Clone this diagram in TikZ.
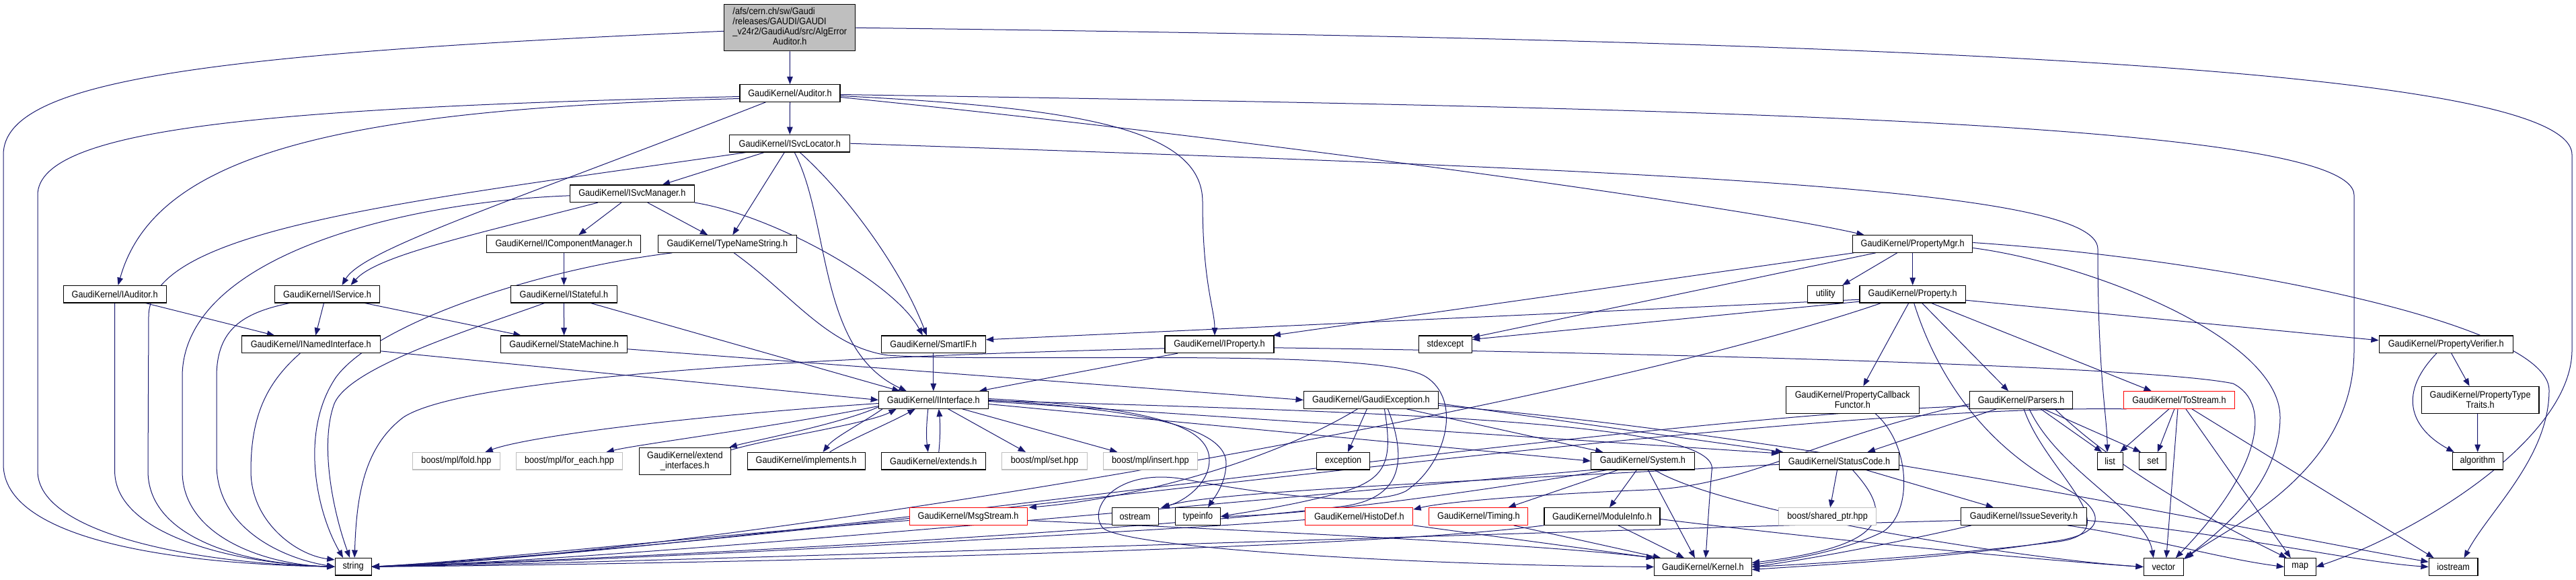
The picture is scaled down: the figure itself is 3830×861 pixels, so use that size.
\documentclass[tikz,border=0pt]{standalone}
\usepackage{fontspec}
\usetikzlibrary{arrows.meta,calc}
\newfontfamily\dox{Liberation Sans}[FakeStretch=0.9]
\definecolor{edgec}{HTML}{191970}
\definecolor{rootfill}{HTML}{BFBFBF}
\definecolor{grayb}{HTML}{BFBFBF}
\pgfdeclarelayer{bg}
\pgfdeclarelayer{edges}
\pgfsetlayers{bg,edges,main}
\tikzset{
  box/.style={draw=black, fill=white, line width=0.8pt, inner sep=0pt, minimum height=19.2pt,
    font=\dox\fontsize{10.6}{11.2}\selectfont, align=center},
  boxg/.style={box, draw=grayb},
  boxr/.style={box, draw=red},
  tall/.style={minimum height=30pt},
  bw/.style={minimum width=#1*0.75pt},
  dep/.style={draw=edgec, line width=0.75pt, -{Triangle[length=8.5pt,width=6.5pt]}},
}
\begin{document}
\begin{tikzpicture}[x=0.75pt,y=-0.75pt]
\begin{pgfonlayer}{bg}
\fill[white] (0,0) rectangle (3830,861);
\end{pgfonlayer}
\useasboundingbox (0,0) rectangle (3830,861);
% ---------- nodes ----------
\node[box, fill=rootfill, bw=195, minimum height=51.75pt] (root) at (1174.3,41.3)
  {\begin{tabular}{@{}l@{}}/afs/cern.ch/sw/Gaudi\\/releases/GAUDI/GAUDI\\\_v24r2/GaudiAud/src/AlgError\\\multicolumn{1}{@{}c@{}}{Auditor.h}\end{tabular}};
\node[box, bw=149] (aud) at (1174.5,138.5) {GaudiKernel/Auditor.h};
\node[box, bw=179] (isl) at (1174.3,213.2) {GaudiKernel/ISvcLocator.h};
\node[box, bw=185] (ism) at (939.8,287.8) {GaudiKernel/ISvcManager.h};
\node[box, bw=229] (icm) at (838.4,362.5) {GaudiKernel/IComponentManager.h};
\node[box, bw=206] (tns) at (1081.3,362.5) {GaudiKernel/TypeNameString.h};
\node[box, bw=153] (iaud) at (170.6,437.2) {GaudiKernel/IAuditor.h};
\node[box, bw=156] (isvc) at (486.5,437.2) {GaudiKernel/IService.h};
\node[box, bw=206] (inam) at (462.2,511.8) {GaudiKernel/INamedInterface.h};
\node[box, bw=54] (str) at (525.1,842.2) {string};
\node[box, bw=158] (ist) at (838.4,437.2) {GaudiKernel/IStateful.h};
\node[box, bw=188] (stm) at (838.6,511.8) {GaudiKernel/StateMachine.h};
\node[boxg, bw=130] (fold) at (678.4,685.2) {boost/mpl/fold.hpp};
\node[boxg, bw=158] (fore) at (846.5,685.2) {boost/mpl/for\_each.hpp};
\node[box, tall, bw=136] (exti) at (1018.4,685.2) {GaudiKernel/extend\\\_interfaces.h};
\node[box, bw=175] (impl) at (1198.6,685.2) {GaudiKernel/implements.h};
\node[box, bw=155] (sif) at (1387.8,511.8) {GaudiKernel/SmartIF.h};
\node[box, bw=162] (iprop) at (1813,511.8) {GaudiKernel/IProperty.h};
\node[box, bw=162.5] (iif) at (1387.8,594.5) {GaudiKernel/IInterface.h};
\node[box, bw=155] (exts) at (1387.8,685.2) {GaudiKernel/extends.h};
\node[boxg, bw=126.5] (mset) at (1553,685.2) {boost/mpl/set.hpp};
\node[boxg, bw=140] (mins) at (1710.4,685.2) {boost/mpl/insert.hpp};
\node[boxr, bw=175] (msg) at (1439.6,767.5) {GaudiKernel/MsgStream.h};
\node[box, bw=69] (ostr) at (1687.6,767.5) {ostream};
\node[box, bw=67] (tinf) at (1781,767.5) {typeinfo};
\node[box, bw=79] (stde) at (2148.8,511.8) {stdexcept};
\node[box, bw=200] (gexc) at (2038.4,594.5) {GaudiKernel/GaudiException.h};
\node[box, bw=79] (exc) at (1997,685.2) {exception};
\node[box, bw=153.5] (sys) at (2442.4,685.2) {GaudiKernel/System.h};
\node[boxr, bw=160] (hist) at (2020.8,767.5) {GaudiKernel/HistoDef.h};
\node[boxr, bw=147] (tim) at (2198.4,767.5) {GaudiKernel/Timing.h};
\node[box, bw=172] (modi) at (2382,767.5) {GaudiKernel/ModuleInfo.h};
\node[box, bw=144.5] (kern) at (2531.9,842.5) {GaudiKernel/Kernel.h};
\node[box, bw=178] (pmgr) at (2843.7,362.5) {GaudiKernel/PropertyMgr.h};
\node[box, bw=53] (util) at (2714.3,437.2) {utility};
\node[box, bw=157.5] (prop) at (2843.7,437.2) {GaudiKernel/Property.h};
\node[box, tall, bw=197.6] (pcbf) at (2754.3,594.3) {GaudiKernel/PropertyCallback\\Functor.h};
\node[box, bw=153] (pars) at (3005.1,594.5) {GaudiKernel/Parsers.h};
\node[boxr, bw=165.6] (tost) at (3239.9,594.5) {GaudiKernel/ToStream.h};
\node[box, bw=177.6] (stc) at (2734.5,685.2) {GaudiKernel/StatusCode.h};
\node[boxg, bw=144.5] (shp) at (2717.1,767.5) {boost/shared\_ptr.hpp};
\node[box, bw=187.8] (isev) at (3009,767.5) {GaudiKernel/IssueSeverity.h};
\node[box, bw=38] (lst) at (3137.1,685.2) {list};
\node[box, bw=40] (sset) at (3200.9,685.2) {set};
\node[box, bw=59] (vec) at (3216.8,842.5) {vector};
\node[box, bw=46.5] (map) at (3419.8,842.5) {map};
\node[box, bw=72.7] (iost) at (3647.6,842.5) {iostream};
\node[box, bw=199] (pver) at (3636.7,511.8) {GaudiKernel/PropertyVerifier.h};
\node[box, tall, bw=174.7] (ptt) at (3687.6,594.3) {GaudiKernel/PropertyType\\Traits.h};
\node[box, bw=74.7] (algo) at (3683.7,685.2) {algorithm};
% ---------- edges ----------
\begin{pgfonlayer}{edges}
% root
\draw[dep] (root.south) -- (aud.north);
\draw[dep] ($(root.west)+(0,5)$) .. controls (300,80) and (5,120) .. (5,230) -- (5,690) .. controls (5,800) and (250,838) .. (str.west);
\draw[dep] (root.east) .. controls (2800,60) and (3824,100) .. (3824,230) -- (3824,520) .. controls (3824,650) and (3600,790) .. (map.east);
% Auditor
\draw[dep] (aud.south) -- (isl.north);
\draw[dep] ($(aud.west)+(0,5)$) .. controls (400,160) and (56,190) .. (56,290) -- (56,700) .. controls (56,795) and (300,838) .. (str.west);
\draw[dep] ($(aud.west)+(0,8)$) .. controls (500,162) and (230,230) .. ($(iaud.north)+(5,0)$);
\draw[dep] ($(aud.south)+(-36,0)$) .. controls (760,300) and (540,370) .. ($(isvc.north)+(22,0)$);
\draw[dep] ($(aud.east)+(0,4)$) .. controls (1600,160) and (1788,190) .. (1788,300) .. controls (1788,420) and (1806,460) .. ($(iprop.north)+(-7,0)$);
\draw[dep] ($(aud.east)+(0,6)$) .. controls (1900,210) and (2600,310) .. ($(pmgr.north)+(-72,0)$);
\draw[dep] ($(aud.east)+(0,2)$) .. controls (2500,160) and (3500,180) .. (3500,290) -- (3500,520) .. controls (3500,700) and (3320,780) .. ($(vec.north east)+(3,0)$);
% ISvcLocator
\draw[dep] ($(isl.south)+(-38,0)$) -- ($(ism.north)+(45,0)$);
\draw[dep] ($(isl.south)+(-8,0)$) -- ($(tns.north)+(8,0)$);
\draw[dep] ($(isl.south)+(-65,0)$) .. controls (600,300) and (222,340) .. (221,470) -- (220,700) .. controls (220,795) and (350,838) .. (str.west);
\draw[dep] ($(isl.south)+(7,0)$) .. controls (1235,330) and (1215,520) .. ($(iif.north)+(-40,0)$);
\draw[dep] ($(isl.south)+(15,0)$) .. controls (1260,290) and (1340,400) .. ($(sif.north)+(-10,0)$);
\draw[dep] (isl.east) .. controls (2500,255) and (3119,280) .. (3119,370) .. controls (3119,560) and (3133,620) .. ($(lst.north)+(-4,0)$);
% ISvcManager
\draw[dep] ($(ism.south)+(-16,0)$) -- ($(icm.north)+(22,0)$);
\draw[dep] ($(ism.south)+(23,0)$) -- ($(tns.north)+(-29,0)$);
\draw[dep] (ism.south east) .. controls (1150,320) and (1330,420) .. ($(sif.north)+(-16,0)$);
\draw[dep] ($(ism.south)+(-51,0)$) .. controls (700,350) and (560,380) .. ($(isvc.north)+(35,0)$);
\draw[dep] ($(ism.west)+(0,3)$) .. controls (600,300) and (271,380) .. (271,560) -- (271,700) .. controls (271,800) and (400,840) .. (str.west);
% IComponentManager
\draw[dep] (icm.south) -- (ist.north);
% TypeNameString
\draw[dep] ($(tns.south)+(-82,0)$) .. controls (800,400) and (560,480) .. (500,560) .. controls (445,640) and (470,760) .. ($(str.north)+(-15,0)$);
\draw[dep] ($(tns.south)+(10,0)$) .. controls (1180,440) and (1230,515) .. (1320,528) .. controls (1500,540) and (2050,515) .. (2120,560) .. controls (2175,595) and (2150,690) .. (2090,730) .. controls (2040,755) and (1880,735) .. (1760,712) .. controls (1660,695) and (1615,755) .. (1640,785) .. controls (1680,815) and (2100,840) .. (kern.west);
% IAuditor
\draw[dep] ($(iaud.south)+(46,0)$) -- ($(inam.north)+(-54,0)$);
\draw[dep] (iaud.south) -- (170.6,700) .. controls (170.6,795) and (350,838) .. (str.west);
% IService
\draw[dep] ($(isvc.south)+(-5,0)$) -- ($(inam.north)+(7,0)$);
\draw[dep] ($(isvc.south)+(-56,0)$) .. controls (360,465) and (322,490) .. (322,560) -- (322,690) .. controls (322,785) and (420,830) .. (str.west);
\draw[dep] ($(isvc.south)+(56,0)$) -- ($(stm.north)+(-64,0)$);
% INamedInterface
\draw[dep] ($(inam.east)+(0,10)$) -- (iif.west);
\draw[dep] ($(inam.south)+(-16,0)$) .. controls (395,570) and (373,620) .. (373,700) .. controls (373,775) and (440,825) .. ($(str.north west)+(0,3)$);
% IStateful
\draw[dep] (ist.south) -- (stm.north);
\draw[dep] ($(ist.south)+(-29,0)$) .. controls (700,490) and (520,545) .. (497,600) .. controls (475,660) and (495,760) .. ($(str.north)+(-5,0)$);
\draw[dep] ($(ist.south)+(40,0)$) -- ($(iif.north)+(-50,0)$);
% StateMachine
\draw[dep] ($(stm.east)+(0,7)$) -- (gexc.west);
% SmartIF
\draw[dep] (sif.south) -- (iif.north);
% IProperty
\draw[dep] ($(iprop.south)+(-62,0)$) -- ($(iif.north)+(68,0)$);
\draw[dep] ($(iprop.west)+(0,6)$) .. controls (1300,528) and (700,555) .. (600,620) .. controls (540,665) and (530,740) .. ($(str.north)+(2,0)$);
\draw[dep] ($(iprop.east)+(0,5)$) .. controls (2500,525) and (3200,545) .. (3320,570) .. controls (3380,600) and (3360,700) .. ($(vec.north)+(18,0)$);
% IInterface
\draw[dep] ($(iif.west)+(0,5)$) .. controls (1000,620) and (780,650) .. ($(fold.north)+(43,0)$);
\draw[dep] ($(iif.west)+(0,9)$) .. controls (1150,635) and (950,660) .. ($(fore.north)+(55,0)$);
\draw[dep] ($(iif.south west)+(0,-3)$) .. controls (1250,630) and (1120,655) .. ($(exti.north)+(66,0)$);
\draw[dep] ($(exti.north east)+(0,4)$) .. controls (1150,650) and (1290,630) .. ($(iif.south)+(-55,0)$);
\draw[dep] ($(iif.south west)+(6,0)$) .. controls (1280,630) and (1240,650) .. ($(impl.north)+(25,0)$);
\draw[dep] ($(impl.north)+(35,0)$) .. controls (1260,655) and (1320,630) .. ($(iif.south)+(-27,0)$);
\draw[dep] ($(iif.south)+(-8,0)$) .. controls (1377,635) and (1377,650) .. ($(exts.north)+(-8,0)$);
\draw[dep] ($(exts.north)+(8,0)$) .. controls (1398,650) and (1398,630) .. ($(iif.south)+(8,0)$);
\draw[dep] ($(iif.south)+(22,0)$) -- ($(mset.north)+(-28,0)$);
\draw[dep] ($(iif.south)+(43,0)$) -- ($(mins.north)+(-49,0)$);
\draw[dep] ($(iif.east)+(0,-2)$) .. controls (1700,605) and (1800,630) .. (1798,685) .. controls (1797,720) and (1760,745) .. ($(ostr.north east)+(5,0)$);
\draw[dep] ($(iif.east)+(0,0)$) .. controls (1720,610) and (1825,640) .. (1823,690) .. controls (1822,720) and (1805,740) .. ($(tinf.north)+(15,0)$);
\draw[dep] ($(iif.east)+(0,6)$) -- (sys.west);
\draw[dep] ($(iif.east)+(0,2)$) -- ($(stc.north west)+(0,2)$);
\draw[dep] ($(iif.east)+(0,1)$) .. controls (2200,615) and (2560,635) .. (2545,700) .. controls (2540,760) and (2538,800) .. ($(kern.north)+(4,0)$);
% GaudiException
\draw[dep] ($(gexc.south)+(-6,0)$) -- ($(exc.north)+(7,0)$);
\draw[dep] ($(gexc.south)+(53,0)$) -- ($(sys.north)+(-59,0)$);
\draw[dep] ($(gexc.east)+(0,5)$) -- ($(stc.north west)+(6,0)$);
\draw[dep] ($(gexc.east)+(0,8)$) .. controls (2700,650) and (3300,780) .. ($(iost.north west)+(0,6)$);
\draw[dep] ($(gexc.south)+(-20,0)$) .. controls (1900,680) and (1700,740) .. ($(msg.north east)+(2,0)$);
\draw[dep] ($(gexc.south)+(20,0)$) .. controls (2070,680) and (2065,710) .. (2000,730) .. controls (1930,750) and (1860,760) .. (tinf.east);
\draw[dep] ($(gexc.south)+(25,0)$) .. controls (2095,690) and (2080,740) .. (2000,752) .. controls (1700,790) and (900,832) .. (str.east);
% System
\draw[dep] ($(sys.south)+(-9,0)$) -- ($(modi.north)+(11,0)$);
\draw[dep] ($(sys.south)+(-37,0)$) -- ($(tim.north)+(44,0)$);
\draw[dep] ($(sys.south)+(8,0)$) -- ($(kern.north)+(-12,0)$);
\draw[dep] ($(sys.south)+(18,0)$) .. controls (2560,760) and (3000,830) .. (vec.west);
\draw[dep] (sys.south west) .. controls (1900,740) and (900,835) .. (str.east);
\draw[dep] ($(sys.south)+(-53,0)$) .. controls (2200,730) and (1950,765) .. (tinf.east);
% ModuleInfo, Timing, HistoDef, MsgStream
\draw[dep] ($(modi.south)+(24,0)$) -- ($(kern.north)+(-28,0)$);
\draw[dep] ($(modi.east)+(0,4)$) .. controls (2700,800) and (3000,830) .. (vec.west);
\draw[dep] (modi.south west) .. controls (2000,820) and (900,840) .. (str.east);
\draw[dep] ($(tim.south)+(52,0)$) -- ($(kern.north west)+(10,0)$);
\draw[dep] (hist.south east) -- (kern.north west);
\draw[dep] ($(hist.west)+(0,5)$) .. controls (1700,790) and (900,835) .. (str.east);
\draw[dep] ($(msg.east)+(0,6)$) .. controls (1900,790) and (2300,810) .. (kern.north west);
\draw[dep] ($(msg.west)+(0,6)$) .. controls (1000,800) and (700,835) .. (str.east);
% StatusCode
\draw[dep] ($(stc.south)+(-3,0)$) -- ($(shp.north)+(4,0)$);
\draw[dep] ($(stc.south)+(40,0)$) -- ($(isev.north)+(-45,0)$);
\draw[dep] ($(stc.south)+(20,0)$) .. controls (2810,760) and (2820,810) .. ($(kern.east)+(0,-6)$);
\draw[dep] ($(stc.west)+(0,5)$) .. controls (2200,715) and (1800,730) .. ($(ostr.north east)+(3,1)$);
% IssueSeverity
\draw[dep] ($(isev.south)+(-78,0)$) .. controls (2850,800) and (2700,830) .. (kern.east);
\draw[dep] ($(isev.west)+(0,6)$) .. controls (2300,790) and (900,838) .. (str.east);
\draw[dep] ($(isev.south)+(65,0)$) .. controls (3200,800) and (3300,830) .. (map.west);
\draw[dep] ($(isev.east)+(0,6)$) .. controls (3300,790) and (3500,835) .. (iost.west);
% Parsers
\draw[dep] ($(pars.south)+(-37,0)$) -- ($(stc.north)+(42,0)$);
\draw[dep] ($(pars.south)+(29,0)$) -- ($(lst.north)+(-12,0)$);
\draw[dep] ($(pars.south)+(33,0)$) -- ($(sset.north)+(-18,0)$);
\draw[dep] ($(pars.south)+(12,0)$) .. controls (3060,700) and (3190,760) .. ($(vec.north)+(-15,0)$);
\draw[dep] ($(pars.south)+(50,0)$) .. controls (3150,700) and (3300,780) .. ($(map.north west)+(4,0)$);
\draw[dep] ($(pars.south)+(4,0)$) .. controls (3040,700) and (3170,790) .. (3060,805) .. controls (2900,825) and (2700,838) .. (kern.east);
\draw[dep] ($(pars.west)+(0,6)$) .. controls (2700,650) and (2600,722) .. (2450,728) .. controls (2300,734) and (2150,745) .. ($(hist.north east)+(0,3)$);
\draw[dep] ($(pars.west)+(0,9)$) .. controls (2400,620) and (1100,820) .. (str.east);
% ToStream
\draw[dep] ($(tost.south)+(-15,0)$) -- ($(lst.north)+(15,0)$);
\draw[dep] ($(tost.south)+(-7,0)$) -- ($(sset.north)+(7,0)$);
\draw[dep] ($(tost.south)+(-2,0)$) -- ($(vec.north)+(4,0)$);
\draw[dep] ($(tost.south)+(10,0)$) -- ($(map.north)+(-14,0)$);
\draw[dep] ($(tost.south)+(19,0)$) -- ($(iost.north)+(-29,0)$);
\draw[dep] ($(tost.south west)+(5,0)$) .. controls (2600,600) and (1300,800) .. (str.east);
% Property
\draw[dep] ($(prop.south)+(-6,0)$) -- ($(pcbf.north)+(16,0)$);
\draw[dep] ($(prop.south)+(14,0)$) -- ($(pars.north)+(-19,0)$);
\draw[dep] ($(prop.south)+(28,0)$) -- ($(tost.north)+(-41,0)$);
\draw[dep] ($(prop.east)+(0,9)$) -- ($(pver.west)+(0,-6)$);
\draw[dep] ($(prop.south)+(2,0)$) .. controls (2880,560) and (2950,660) .. (3060,720) .. controls (3140,760) and (3130,795) .. (3050,805) .. controls (2900,830) and (2700,840) .. ($(kern.east)+(0,4)$);
\draw[dep] ($(prop.west)+(0,8)$) -- ($(sif.east)+(0,-7)$);
\draw[dep] ($(prop.west)+(0,11)$) -- ($(stde.north east)+(0,6)$);
\draw[dep] ($(prop.south)+(-47,0)$) .. controls (2300,620) and (1000,830) .. (str.east);
% PropertyMgr
\draw[dep] ($(pmgr.south)+(-23,0)$) -- ($(util.north)+(25,0)$);
\draw[dep] (pmgr.south) -- (prop.north);
\draw[dep] ($(pmgr.south west)+(2,0)$) -- ($(iprop.north east)+(-2,0)$);
\draw[dep] ($(pmgr.south)+(-55,0)$) -- ($(stde.north east)+(0,3)$);
\draw[dep] ($(pmgr.east)+(0,-2)$) .. controls (3300,385) and (3790,480) .. (3790,580) .. controls (3790,680) and (3700,760) .. ($(iost.north)+(16,0)$);
\draw[dep] ($(pmgr.east)+(0,6)$) .. controls (3100,390) and (3390,500) .. (3390,620) .. controls (3390,720) and (3300,790) .. ($(vec.north east)+(0,2)$);
% PropertyVerifier, PropertyTypeTraits, PropertyCallbackFunctor
\draw[dep] ($(pver.south)+(8,0)$) -- ($(ptt.north)+(-16,0)$);
\draw[dep] ($(pver.south)+(-14,0)$) .. controls (3560,590) and (3590,640) .. ($(algo.north)+(-35,0)$);
\draw[dep] ($(ptt.south)+(-4,0)$) -- (algo.north);
\draw[dep] ($(pcbf.south)+(34,0)$) .. controls (2840,660) and (2845,760) .. (2800,790) .. controls (2740,820) and (2660,832) .. ($(kern.east)+(0,-3)$);
\end{pgfonlayer}
\end{tikzpicture}
\end{document}
